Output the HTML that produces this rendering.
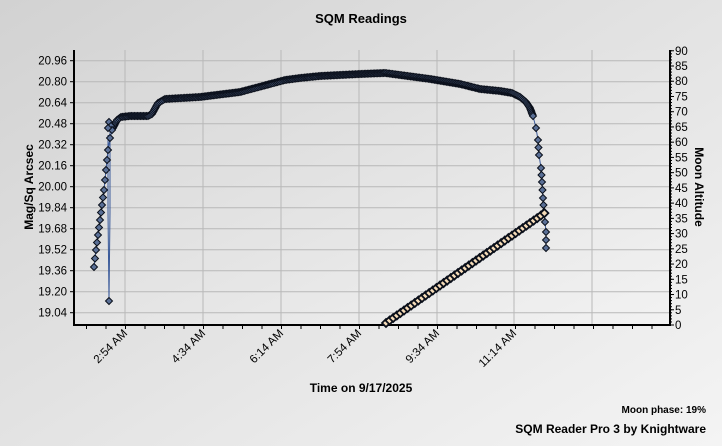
<!DOCTYPE html><html><head><style>body{margin:0}svg{display:block}text{font-family:"Liberation Sans",Arial,sans-serif}</style></head><body>
<svg id="s" width="722" height="446" xmlns="http://www.w3.org/2000/svg">
<defs>
<linearGradient id="bg" x1="0" y1="0" x2="1" y2="1"><stop offset="0" stop-color="#d2d2d2"/><stop offset="1" stop-color="#f4f4f4"/></linearGradient>
<linearGradient id="pa" x1="0" y1="0" x2="1" y2="1"><stop offset="0" stop-color="#d6d6d6"/><stop offset="1" stop-color="#f2f2f2"/></linearGradient>
</defs>
<rect width="722" height="446" fill="url(#bg)"/>
<rect x="74" y="50" width="596" height="275" fill="url(#pa)"/>
<g id="grid" stroke="#b8b8b8" stroke-width="1"></g>
<g id="ax" stroke="#000"></g>
<text x="361" y="23" font-size="13" font-weight="bold" text-anchor="middle">SQM Readings</text>
<text transform="translate(33,187) rotate(-90)" font-size="12" font-weight="bold" text-anchor="middle">Mag/Sq Arcsec</text>
<text transform="translate(695,187) rotate(90)" font-size="12" font-weight="bold" text-anchor="middle">Moon Altitude</text>
<text x="361" y="392" font-size="12" font-weight="bold" text-anchor="middle">Time on 9/17/2025</text>
<text x="706" y="413" font-size="10" font-weight="bold" text-anchor="end">Moon phase: 19%</text>
<text x="706" y="433" font-size="12" font-weight="bold" text-anchor="end">SQM Reader Pro 3 by Knightware</text>
<g id="lab" font-size="11.5"></g>
<g id="data"></g>
</svg>
<script>
var ns="http://www.w3.org/2000/svg";
function el(p,t,a,txt){var e=document.createElementNS(ns,t);for(var k in a)e.setAttribute(k,a[k]);if(txt!=null)e.textContent=txt;document.getElementById(p).appendChild(e);return e;}
function yv(v){return 60.7+(20.96-v)*131.25;}
for(var i=0;i<13;i++){var v=20.96-0.16*i,y=yv(v);
 el('grid','line',{x1:74,x2:670,y1:y,y2:y});
 el('ax','line',{x1:70,x2:74,y1:y,y2:y});
 el('lab','text',{x:67,y:y+4,'text-anchor':'end'},v.toFixed(2));}
for(var j=0;j<=90;j+=5){var y=325-j*3.047;el('ax','line',{x1:670,x2:674,y1:y,y2:y});
 el('lab','text',{x:675,y:y+4},j);}
for(var j=0;j<=90;j+=1){var y=325-j*3.047;el('ax','line',{x1:670,x2:672,y1:y,y2:y});}
var xs=[125,203,281,359,437,514,592],labs=["2:54 AM","4:34 AM","6:14 AM","7:54 AM","9:34 AM","11:14 AM"];
xs.forEach(function(x,i){el('grid','line',{x1:x,x2:x,y1:50,y2:325});if(labs[i]){el('lab','text',{transform:'translate('+(x+3)+',334) rotate(-45)','text-anchor':'end'},labs[i]);}});
for(var x=86.5;x<670;x+=19.5)el('ax','line',{x1:x,x2:x,y1:325,y2:329});
el('ax','line',{x1:74,x2:74,y1:50,y2:325,'stroke-width':2});
el('ax','line',{x1:670,x2:670,y1:50,y2:325,'stroke-width':2});
el('ax','line',{x1:73,x2:671,y1:325,y2:325,'stroke-width':2});
var kp=[[94,267],[96,250],[98,235],[100,220],[102,205],[104,190],[106,170],[108,150],[110,138],[113,128],[117,120],[121,117],[130,116],[148,116],[152,114],[158,103],[165,99],[200,97],[240,92],[270,84],[285,80],[300,78],[320,76],[360,74],[385,73],[400,75],[430,79],[460,84],[480,89],[500,91],[512,93],[520,97],[526,102],[530,108],[533,116],[536,128],[538,140],[539,155],[541,168],[542,182],[543,198],[544,212],[545,222],[546,232],[546,248]];
var pts=[];for(var i=0;i<kp.length-1;i++){var a=kp[i],b=kp[i+1],d=Math.hypot(b[0]-a[0],b[1]-a[1]),n=Math.max(1,Math.round(d/(i<9||i>33?9:1.5)));for(var k=0;k<n;k++)pts.push([a[0]+(b[0]-a[0])*k/n,a[1]+(b[1]-a[1])*k/n]);}
pts.push(kp[kp.length-1]);
var spike=[[108,135],[108,212],[109,301],[110,212],[110,130]];
el('data','polyline',{points:pts.map(function(p){return p.join(',')}).join(' '),fill:'none',stroke:'#3a5a9a','stroke-width':1});
el('data','polyline',{points:spike.map(function(p){return p.join(',')}).join(' '),fill:'none',stroke:'#3a5a9a','stroke-width':1});
function dia(x,y,f,r,sw){r=r||3.5;el('data','path',{d:'M'+x+' '+(y-r)+'L'+(x+r)+' '+y+'L'+x+' '+(y+r)+'L'+(x-r)+' '+y+'Z',fill:f||'#5a6f96',stroke:'#0a0f1a','stroke-width':sw||1});}
pts.forEach(function(p){dia(p[0],p[1]);});
dia(109,301);[[109,122],[111,126],[112,130],[108,128]].forEach(function(p){dia(p[0],p[1]);});
el('data','line',{x1:386,y1:323,x2:546,y2:212,stroke:'#000','stroke-width':4});
for(var x=386;x<=546;x+=3.6){var y=323+(x-386)*(212-323)/160;dia(x,y,'#f6dcb8',4,1.8);}
</script>
</body></html>
